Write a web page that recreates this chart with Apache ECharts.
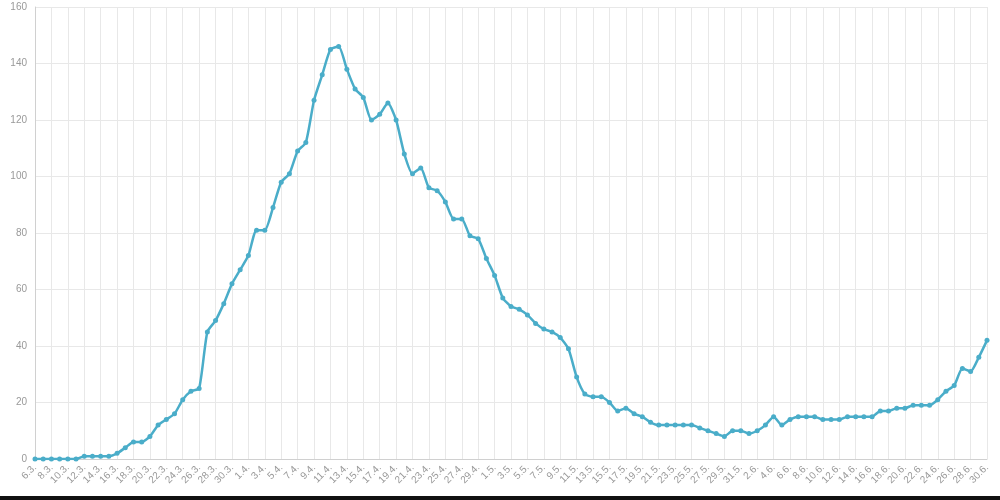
<!DOCTYPE html>
<html>
<head>
<meta charset="utf-8">
<script src="https://cdn.jsdelivr.net/npm/echarts@6/dist/echarts.min.js"></script>
<style>
html,body{margin:0;padding:0;background:#fff;}
#chart{width:1000px;height:496px;}
#bar{width:1000px;height:4px;background:#111;}
</style>
</head>
<body>
<div id="chart"></div>
<div id="bar"></div>
<script>
// Dates 6.3. .. 30.6.
const monthLengths = [[3, 6, 31], [4, 1, 30], [5, 1, 31], [6, 1, 30]];
const categories = [];
monthLengths.forEach(([m, s, e]) => { for (let d = s; d <= e; d++) categories.push(d + '.' + m + '.'); });

const values = [
  0, 0, 0, 0, 0, 0, 1, 1, 1, 1,          // 6.3-15.3
  2, 4, 6, 6, 8, 12, 14, 16, 21, 24,     // 16.3-25.3
  25, 45, 49, 55, 62, 67,                // 26.3-31.3
  72, 81, 81, 89, 98, 101, 109, 112, 127, 136,   // 1.4-10.4
  145, 146, 138, 131, 128, 120, 122, 126, 120, 108, // 11.4-20.4
  101, 103, 96, 95, 91, 85, 85, 79, 78, 71,      // 21.4-30.4
  65, 57, 54, 53, 51, 48, 46, 45, 43, 39,        // 1.5-10.5
  29, 23, 22, 22, 20, 17, 18, 16, 15, 13,        // 11.5-20.5
  12, 12, 12, 12, 12, 11, 10, 9, 8, 10, 10,      // 21.5-31.5
  9, 10, 12, 15, 12, 14, 15, 15, 15, 14,         // 1.6-10.6
  14, 14, 15, 15, 15, 15, 17, 17, 18, 18,        // 11.6-20.6
  19, 19, 19, 21, 24, 26, 32, 31, 36, 42         // 21.6-30.6
];

const yTicks = [0, 20, 40, 60, 80, 100, 120, 140, 160];

const chart = echarts.init(document.getElementById('chart'));
chart.setOption({
  animation: false,
  grid: { left: 35, right: 13, top: 7, bottom: 37 },
  xAxis: {
    type: 'category',
    data: categories,
    boundaryGap: false,
    axisLine: { lineStyle: { color: '#d0d0d0' } },
    axisTick: { show: false },
    axisLabel: { interval: 1, rotate: 45, fontSize: 10, color: '#999', fontFamily: 'Arial, Liberation Sans, sans-serif', margin: 7 },
    splitLine: { show: true, interval: 1, lineStyle: { color: '#e8e8e8', width: 1 } }
  },
  yAxis: {
    type: 'value',
    min: yTicks[0],
    max: yTicks[yTicks.length - 1],
    interval: 20,
    axisLine: { show: true, lineStyle: { color: '#d0d0d0' } },
    axisTick: { show: false },
    axisLabel: { fontSize: 10, color: '#999', fontFamily: 'Arial, Liberation Sans, sans-serif', margin: 8 },
    splitLine: { lineStyle: { color: '#e8e8e8', width: 1 } }
  },
  series: [{
    type: 'line',
    data: values,
    symbol: 'circle',
    symbolSize: 5,
    showAllSymbol: true,
    smooth: 0.2,
    lineStyle: { color: '#4aadc9', width: 2.5 },
    itemStyle: { color: '#4aadc9' }
  }]
});
</script>
</body>
</html>
